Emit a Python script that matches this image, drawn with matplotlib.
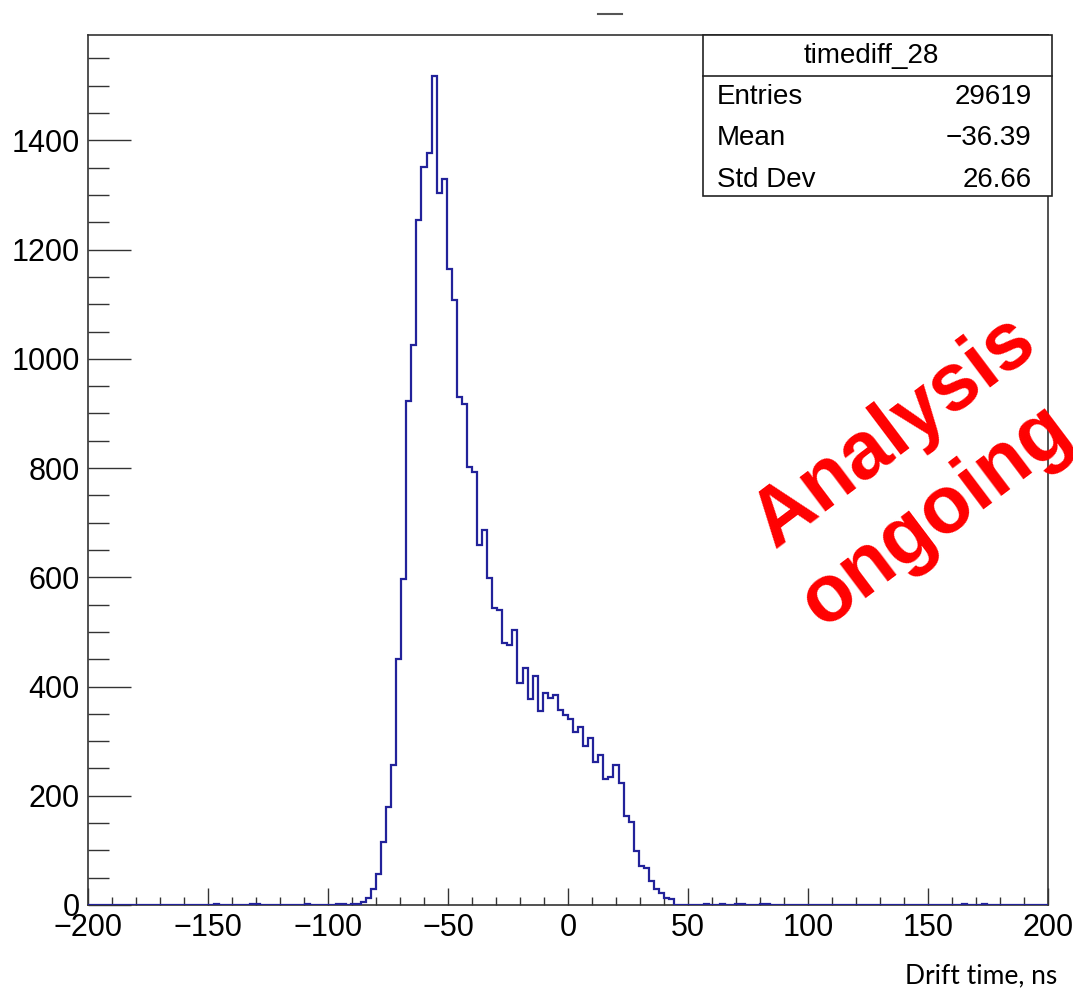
"""
Drift time histogram (timediff_28) redrawn in matplotlib, ROOT look.
"""
import matplotlib
matplotlib.use("Agg")
import matplotlib.pyplot as plt
import numpy as np
from matplotlib.lines import Line2D
from matplotlib.patches import Rectangle
from matplotlib.ticker import MultipleLocator

# ---------------------------------------------------------------------
# data: 190 bins over [-200, 200] ns, non-empty bins only
# ---------------------------------------------------------------------
n_bins = 190
x_min, x_max = -200, 200
bin_index = [25, 32, 33, 43, 49, 50, 52, 53,
             54, 55, 56, 57, 58, 59, 60, 61,
             62, 63, 64, 65, 66, 67, 68, 69, 70, 71, 72,
             73, 74, 75, 76, 77, 78, 79, 80, 81, 82, 83, 84,
             85, 86, 87, 88, 89, 90, 91, 92, 93, 94, 95, 96, 97, 98, 99,
             100, 101, 102, 103, 104, 105,
             106, 107, 108, 109, 110, 111, 112, 113, 114, 115,
             122, 125, 128, 129, 133, 134, 173, 177]
bin_count = [1, 1, 1, 1, 1, 1, 1, 2,
             6, 12, 30, 57, 115, 180, 257, 450,
             596, 922, 1025, 1255, 1352, 1377, 1517, 1303, 1330, 1165, 1108,
             930, 917, 802, 793, 660, 686, 598, 544, 540, 479, 476, 503,
             407, 434, 378, 419, 356, 389, 379, 384, 357, 348, 340, 317, 325, 291, 305,
             262, 274, 230, 235, 256, 224,
             163, 152, 98, 71, 68, 44, 30, 21, 12, 10,
             1, 1, 1, 1, 1, 1, 1, 1]

stats_labels = ["Entries", "Mean", "Std Dev"]
stats_values = ["29619", "\u221236.39", "26.66"]
hist_name = "timediff_28"
x_title = "Drift time, ns"

edges = np.linspace(x_min, x_max, n_bins + 1)
counts = np.zeros(n_bins)
counts[bin_index] = bin_count

# ---------------------------------------------------------------------
HELV = ["Liberation Sans", "DejaVu Sans"]

fig = plt.figure(figsize=(10.73, 9.9), dpi=100)
ax = fig.add_axes([0.0820, 0.0859, 0.8947, 0.8787])

ax.stairs(counts, edges, color="#22229a", linewidth=1.6, zorder=3)

ax.set_xlim(x_min, x_max)
ax.set_ylim(0, 1.05 * max(bin_count))
ax.xaxis.set_major_locator(MultipleLocator(50))
ax.xaxis.set_minor_locator(MultipleLocator(10))
ax.yaxis.set_major_locator(MultipleLocator(200))
ax.yaxis.set_minor_locator(MultipleLocator(50))

ax.tick_params(axis="y", which="major", direction="in", length=31, width=1.0,
               color="#333333", pad=6)
ax.tick_params(axis="y", which="minor", direction="in", length=15, width=1.0,
               color="#333333")
ax.tick_params(axis="x", which="major", direction="in", length=12, width=1.0,
               color="#333333", pad=6)
ax.tick_params(axis="x", which="minor", direction="in", length=6, width=1.0,
               color="#333333")
for lab in ax.get_xticklabels() + ax.get_yticklabels():
    lab.set_fontfamily(HELV)
    lab.set_fontsize(22)
for sp in ax.spines.values():
    sp.set_linewidth(1.2)
    sp.set_color("#333333")

# stats box
box_l, box_r, box_b, box_t = 0.6549, 0.9801, 0.8020, 0.9646
fig.add_artist(Rectangle((box_l, box_b), box_r - box_l, box_t - box_b,
                         transform=fig.transFigure, facecolor="white",
                         edgecolor="#222222", linewidth=1.2, zorder=5))
fig.add_artist(Line2D([box_l, box_r], [0.9232, 0.9232], transform=fig.transFigure,
                      color="#222222", linewidth=1.2, zorder=6))
fig.text(0.8124, 0.9434, hist_name, ha="center", va="center", fontsize=20,
         family=HELV, zorder=7)
for yy, lab, val in zip([0.902, 0.8606, 0.8182], stats_labels, stats_values):
    fig.text(0.668, yy, lab, ha="left", va="center", fontsize=20, family=HELV, zorder=7)
    fig.text(0.9615, yy, val, ha="right", va="center", fontsize=20, family=HELV, zorder=7)

# leftover of the title line at the very top
fig.add_artist(Line2D([0.5573, 0.5797], [0.9862, 0.9862], transform=fig.transFigure,
                      color="#555555", linewidth=1.5))

fig.text(0.985, 0.0068, x_title, ha="right", va="baseline", fontsize=19,
         family=["Lato", "DejaVu Sans"])

# watermark
fig.text(0.834, 0.5636, "Analysis", color="red", fontsize=58, fontweight="bold",
         family=HELV, rotation=37, rotation_mode="anchor", ha="center", va="center",
         zorder=10)
fig.text(0.8734, 0.4788, "ongoing", color="red", fontsize=58, fontweight="bold",
         family=HELV, rotation=37, rotation_mode="anchor", ha="center", va="center",
         zorder=10)

fig.savefig("out.png", dpi=100)
